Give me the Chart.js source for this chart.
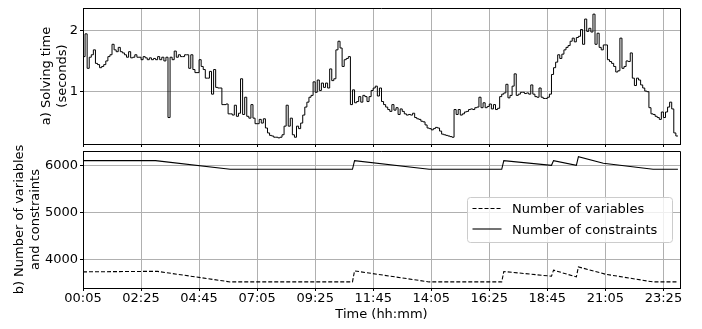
<!DOCTYPE html>
<html>
<head>
<meta charset="utf-8">
<script src="https://cdn.jsdelivr.net/npm/chart.js@4.4.1/dist/chart.umd.min.js"></script>
<style>
  html, body { margin: 0; padding: 0; background: #fff; }
  #wrap { position: relative; width: 702px; height: 329px; }
  canvas { position: absolute; left: 0; }
  #top { top: 0; }
  #bottom { top: 130px; }
</style>
</head>
<body>
<div id="wrap">
  <canvas id="top" width="702" height="148"></canvas>
  <canvas id="bottom" width="702" height="199"></canvas>
</div>
<script>
// x positions are 5-minute steps counted from 00:05
const tickIdx = [0, 28, 56, 84, 112, 140, 168, 196, 224, 252, 280];
const tickLabels = ['00:05', '02:25', '04:45', '07:05', '09:25', '11:45', '14:05', '16:25', '18:45', '21:05', '23:25'];

// a) solving time (s), one value per step
const solveTime = [
  1.57, 1.57, 1.94, 1.38, 1.56, 1.60, 1.68, 1.46, 1.44, 1.39,
  1.41, 1.44, 1.50, 1.57, 1.60, 1.77, 1.68, 1.65, 1.72, 1.65,
  1.63, 1.60, 1.56, 1.65, 1.55, 1.56, 1.60, 1.56, 1.56, 1.52,
  1.57, 1.55, 1.52, 1.55, 1.52, 1.54, 1.52, 1.57, 1.52, 1.56,
  1.50, 1.56, 0.58, 1.56, 1.52, 1.66, 1.56, 1.60,
  1.57, 1.57, 1.60, 1.60, 1.38, 1.60, 1.36, 1.31, 1.31, 1.52,
  1.41, 1.36, 1.22, 1.22, 1.33, 0.96, 1.36, 1.07, 1.06, 1.06,
  0.79, 0.79, 0.80, 0.64, 0.64, 0.62, 0.78, 0.60, 0.65, 1.21,
  0.63, 0.91, 0.60, 0.57, 0.79, 0.57, 0.48, 0.48, 0.55, 0.49,
  0.56, 0.41, 0.33, 0.29, 0.28, 0.26, 0.26, 0.25,
  0.26, 0.30, 0.44, 0.78, 0.44, 0.57, 0.30, 0.26, 0.44, 0.40,
  0.49, 0.62, 0.75, 0.83, 0.91, 0.94, 1.16, 0.99, 1.19, 1.02,
  1.14, 1.07, 1.14, 1.06, 1.37, 1.18, 1.21, 1.68, 1.82, 1.71,
  1.41, 1.52, 1.54, 1.57, 0.79, 1.03, 0.82, 0.84, 0.92, 0.83,
  0.94, 0.92, 0.84, 0.92, 1.02, 1.06, 1.09, 0.93,
  1.06, 0.84, 0.79, 0.75, 0.71, 0.68, 0.79, 0.70, 0.74, 0.63,
  0.72, 0.68, 0.64, 0.62, 0.63, 0.62, 0.65, 0.58, 0.56, 0.55,
  0.52, 0.51, 0.46, 0.41, 0.40, 0.38, 0.40, 0.42, 0.41, 0.36,
  0.31, 0.30, 0.29, 0.28, 0.27, 0.26, 0.71, 0.63, 0.71, 0.62,
  0.64, 0.67, 0.68, 0.71, 0.72, 0.71, 0.74, 0.75,
  0.91, 0.74, 0.82, 0.74, 0.76, 0.80, 0.72, 0.79, 0.71, 0.73,
  0.92, 0.96, 0.98, 1.12, 0.90, 0.94, 1.09, 1.29, 0.94, 0.96,
  0.99, 0.99, 0.97, 0.98, 0.96, 1.11, 0.96, 0.92, 0.91, 1.06,
  0.91, 0.89, 0.89, 0.91, 0.96, 1.28, 1.39, 1.48, 1.60, 1.54,
  1.61, 1.68, 1.72, 1.75, 1.82, 1.87, 1.81, 1.88,
  1.90, 2.01, 1.77, 2.18, 1.98, 2.03, 1.97, 2.26, 1.77, 1.95,
  1.72, 1.68, 1.76, 1.76, 1.52, 1.49, 1.46, 1.41, 1.32, 1.34,
  1.87, 1.38, 1.41, 1.50, 1.49, 1.63, 1.22, 1.10, 1.22, 1.19,
  1.11, 1.06, 1.01, 1.00, 0.74, 0.64, 0.63, 0.60, 0.58, 0.55,
  0.67, 0.58, 0.67, 0.75, 0.83, 0.72, 0.33, 0.28
];

// b) problem size, breakpoints of the piecewise lines (step, count)
const varSteps  = [0, 30, 36, 71, 130, 131, 167, 202, 203, 226, 227, 238, 239, 252, 275, 287];
const varCounts = [3735, 3745, 3745, 3520, 3520, 3756, 3520, 3520, 3743, 3642, 3771, 3627, 3841, 3685, 3520, 3520];
const conSteps  = [0, 35, 71, 130, 131, 167, 202, 203, 226, 227, 238, 239, 251, 275, 287];
const conCounts = [6114, 6114, 5929, 5929, 6114, 5929, 5929, 6114, 6014, 6114, 6014, 6200, 6057, 5929, 5929];

Chart.defaults.font.family = 'DejaVu Sans';
Chart.defaults.font.size = 13;
Chart.defaults.color = '#000';
Chart.defaults.animation = false;

const gridColor = '#b0b0b0';

// top and right spines
const frame = {
  id: 'frame',
  afterDraw(chart) {
    const { ctx, chartArea: a } = chart;
    ctx.save();
    ctx.strokeStyle = '#000';
    ctx.lineWidth = 1;
    ctx.beginPath();
    ctx.moveTo(a.left, a.top + 0.5);
    ctx.lineTo(a.right + 0.5, a.top + 0.5);
    ctx.lineTo(a.right + 0.5, a.bottom);
    ctx.stroke();
    ctx.restore();
  }
};

const legendBox = {
  id: 'legendBox',
  afterDatasetsDraw(chart) {
    const { ctx, chartArea: a } = chart;
    const w = 205, h = 45, r = 3;
    const x = a.right - 212.5, y = a.top + 46.5;
    ctx.save();
    ctx.beginPath();
    ctx.moveTo(x + r, y);
    ctx.arcTo(x + w, y, x + w, y + h, r);
    ctx.arcTo(x + w, y + h, x, y + h, r);
    ctx.arcTo(x, y + h, x, y, r);
    ctx.arcTo(x, y, x + w, y, r);
    ctx.closePath();
    ctx.fillStyle = 'rgba(255,255,255,0.8)';
    ctx.fill();
    ctx.strokeStyle = '#cccccc';
    ctx.lineWidth = 1;
    ctx.stroke();
    ctx.font = '13px "DejaVu Sans"';
    ctx.fillStyle = '#000';
    ctx.textBaseline = 'alphabetic';
    chart.data.datasets.forEach((ds, i) => {
      const ly = y + 11 + i * 20.5;
      ctx.beginPath();
      ctx.setLineDash(ds.borderDash || []);
      ctx.strokeStyle = '#000';
      ctx.lineWidth = ds.borderWidth;
      ctx.moveTo(x + 5, ly);
      ctx.lineTo(x + 34, ly);
      ctx.stroke();
      ctx.setLineDash([]);
      ctx.fillText(ds.label, x + 44.5, ly + 4.8);
    });
    ctx.restore();
  }
};

const xScale = (showLabels) => ({
  type: 'linear',
  min: 0,
  max: 288,
  afterBuildTicks: s => { s.ticks = tickIdx.map(v => ({ value: v })); },
  afterFit: s => { s.height = showLabels ? 41 : 4; s.paddingLeft = 0; s.paddingRight = 0; },
  grid: { color: gridColor, lineWidth: 1, tickColor: '#000', tickLength: 3 },
  border: { color: '#000', width: 1 },
  ticks: {
    display: showLabels,
    padding: 0,
    maxRotation: 0,
    callback: v => tickLabels[tickIdx.indexOf(v)] ?? ''
  },
  title: {
    display: showLabels,
    text: 'Time (hh:mm)',
    padding: { top: 0, bottom: 7 }
  }
});

const yFit = s => { s.width = 83; s.paddingTop = 0; s.paddingBottom = 0; };

new Chart(document.getElementById('top'), {
  type: 'line',
  data: {
    datasets: [{
      label: 'Solving time',
      data: solveTime.map((v, i) => ({ x: i, y: v })),
      borderColor: '#000',
      borderWidth: 1,
      pointRadius: 0,
      stepped: 'after'
    }]
  },
  options: {
    responsive: false,
    layout: { padding: { top: 8, right: 22, left: 0, bottom: 0 } },
    plugins: { legend: { display: false }, tooltip: { enabled: false } },
    scales: {
      x: xScale(false),
      y: {
        min: 0.15,
        max: 2.36,
        afterBuildTicks: s => { s.ticks = [{ value: 1 }, { value: 2 }]; },
        afterFit: yFit,
        grid: { color: gridColor, lineWidth: 1, tickColor: '#000', tickLength: 3 },
        border: { color: '#000', width: 1 },
        ticks: { padding: 2, callback: v => String(v) },
        title: {
          display: true,
          text: ['a) Solving time', '(seconds)'],
          padding: { top: 39, bottom: 0 }
        }
      }
    }
  },
  plugins: [frame]
});

new Chart(document.getElementById('bottom'), {
  type: 'line',
  data: {
    datasets: [{
      label: 'Number of variables',
      data: varSteps.map((s, i) => ({ x: s, y: varCounts[i] })),
      borderColor: '#000',
      borderWidth: 1.1,
      borderDash: [4, 2],
      pointRadius: 0
    }, {
      label: 'Number of constraints',
      data: conSteps.map((s, i) => ({ x: s, y: conCounts[i] })),
      borderColor: '#000',
      borderWidth: 1.1,
      pointRadius: 0
    }]
  },
  options: {
    responsive: false,
    layout: { padding: { top: 21, right: 22, left: 0, bottom: 0 } },
    plugins: { legend: { display: false }, tooltip: { enabled: false } },
    scales: {
      x: xScale(true),
      y: {
        min: 3390,
        max: 6320,
        afterBuildTicks: s => { s.ticks = [{ value: 4000 }, { value: 5000 }, { value: 6000 }]; },
        afterFit: yFit,
        grid: { color: gridColor, lineWidth: 1, tickColor: '#000', tickLength: 3 },
        border: { color: '#000', width: 1 },
        ticks: { padding: 2, callback: v => String(v) },
        title: {
          display: true,
          text: ['b) Number of variables', 'and constraints'],
          padding: { top: 12, bottom: 0 }
        }
      }
    }
  },
  plugins: [frame, legendBox]
});
</script>
</body>
</html>
